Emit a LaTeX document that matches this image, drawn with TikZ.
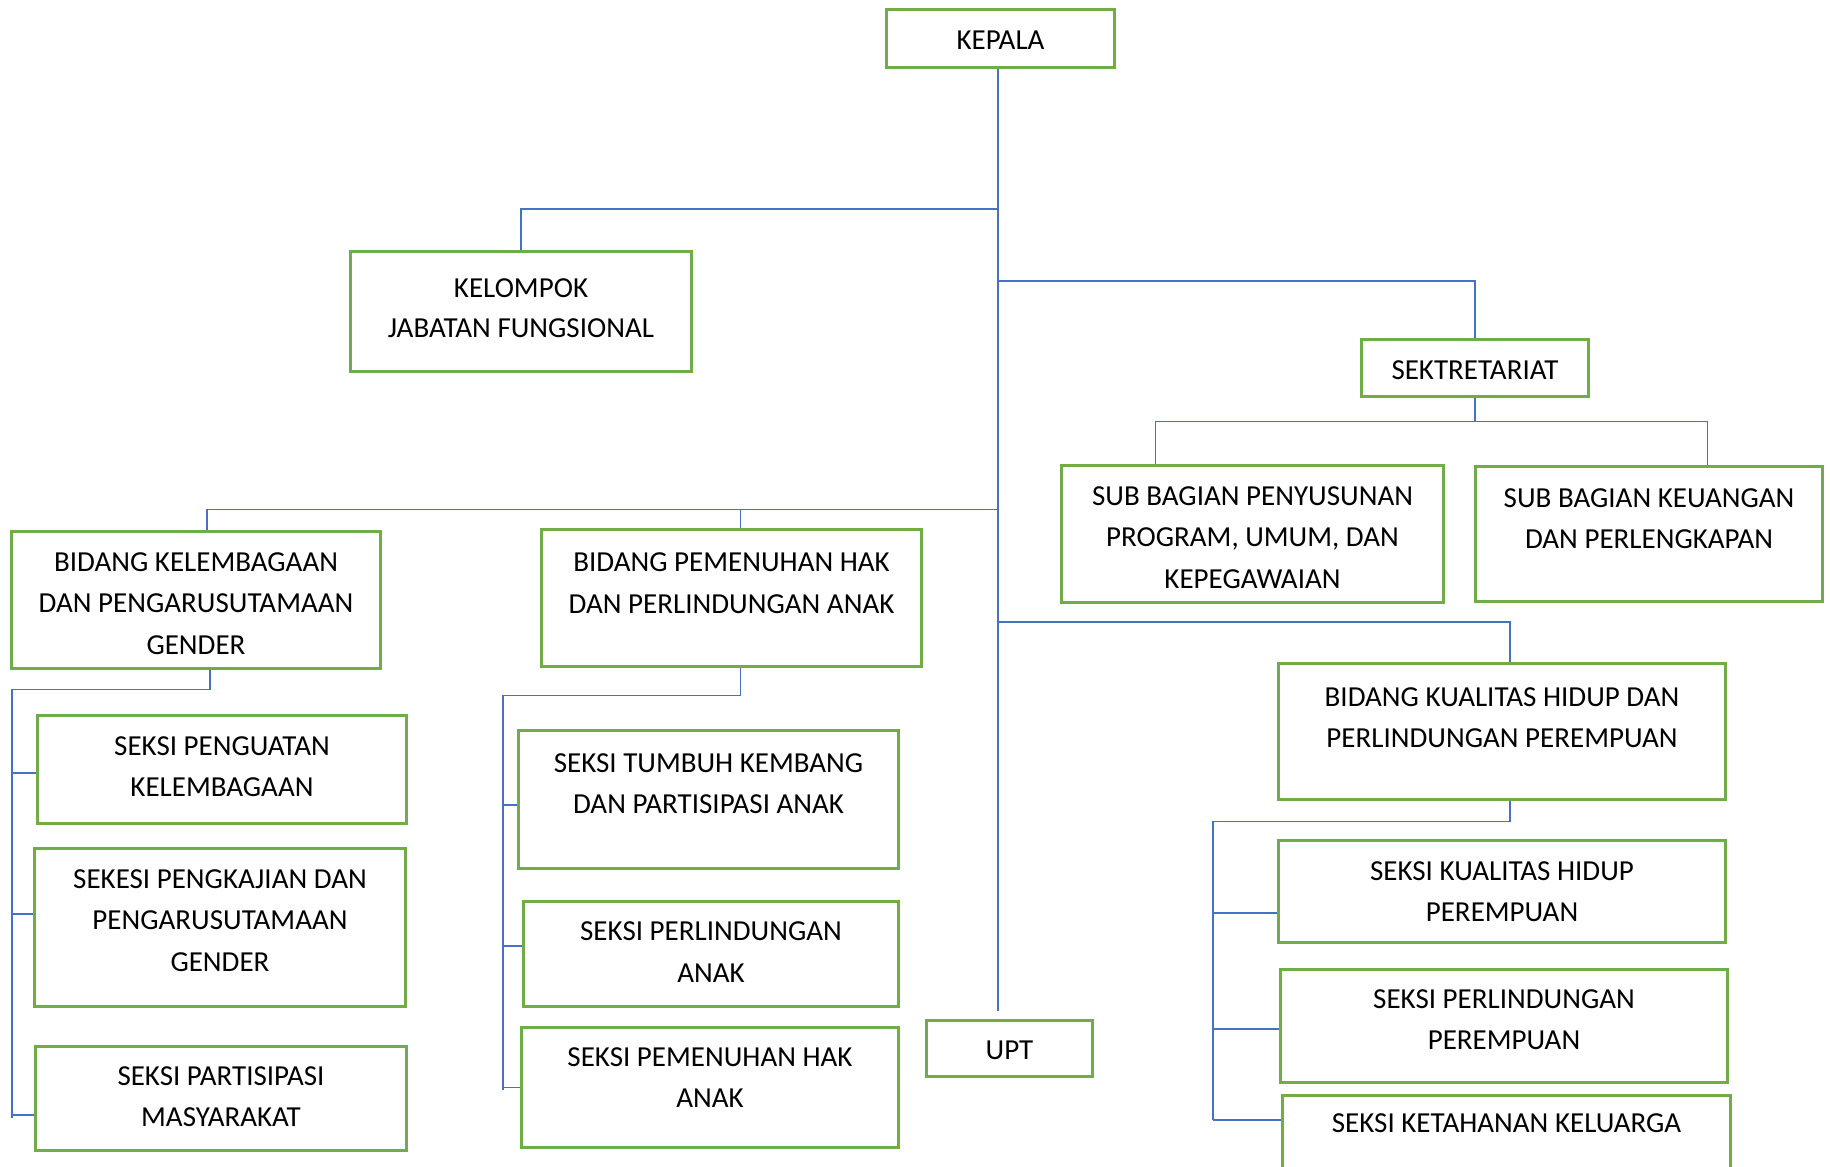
\documentclass[tikz,border=0pt]{standalone}
\usepackage{fontspec}
\setmainfont{Carlito}
\usepackage{xcolor}
\usepackage{tikz}
\definecolor{hijau}{HTML}{70AD47}
\definecolor{biru}{HTML}{4472C4}

\begin{document}
\begin{tikzpicture}[
  x=0.01cm, y=-0.01cm,
  kotak/.style={draw=hijau, line width=0.85pt, inner sep=0pt, align=center,
                text height=0.39cm, font=\fontsize{8.25pt}{11.8pt}\selectfont},
  garis/.style={draw=biru, line width=0.4pt}
]
  \useasboundingbox (0,0) rectangle (1830,1167);

  % Nodes (text height = jarak dari tepi atas ke garis dasar baris terakhir)
  \node[kotak, minimum width=2.27cm, text depth=0.18cm] (kepala) at (1000.5,38.5) {KEPALA};
  \node[kotak, minimum width=3.40cm, text height=0.85cm, text depth=0.34cm] (kelompok) at (521,311.5)
    {KELOMPOK\\[-0.7pt]JABATAN FUNGSIONAL};
  \node[kotak, minimum width=2.26cm, text depth=0.17cm] (sekretariat) at (1475,368) {SEKTRETARIAT};
  \node[kotak, minimum width=3.81cm, text height=1.22cm, text depth=0.14cm] (subprog) at (1252.5,534)
    {SUB BAGIAN PENYUSUNAN\\PROGRAM, UMUM, DAN\\KEPEGAWAIAN};
  \node[kotak, minimum width=3.46cm, text height=0.815cm, text depth=0.525cm] (subkeu) at (1649,534)
    {SUB BAGIAN KEUANGAN\\DAN PERLENGKAPAN};
  \node[kotak, minimum width=3.68cm, text height=1.22cm, text depth=0.14cm] (bidlem) at (196,600)
    {BIDANG KELEMBAGAAN\\DAN PENGARUSUTAMAAN\\GENDER};
  \node[kotak, minimum width=3.79cm, text height=0.83cm, text depth=0.53cm] (bidhak) at (731.5,598)
    {BIDANG PEMENUHAN HAK\\DAN PERLINDUNGAN ANAK};
  \node[kotak, minimum width=4.46cm, text height=0.835cm, text depth=0.515cm] (bidkual) at (1502,731.5)
    {BIDANG KUALITAS HIDUP DAN\\PERLINDUNGAN PEREMPUAN};
  \node[kotak, minimum width=1.65cm, text height=0.38cm, text depth=0.17cm] (upt) at (1009.5,1048.5) {UPT};

  \node[kotak, minimum width=3.68cm, text height=0.805cm, text depth=0.265cm] (penguatan) at (222,769.5)
    {SEKSI PENGUATAN\\KELEMBAGAAN};
  \node[kotak, minimum width=3.70cm, text height=1.22cm, text depth=0.35cm] (pengkajian) at (220,927.5)
    {SEKESI PENGKAJIAN DAN\\PENGARUSUTAMAAN\\GENDER};
  \node[kotak, minimum width=3.70cm, text height=0.795cm, text depth=0.235cm] (partisipasi) at (221,1098.5)
    {SEKSI PARTISIPASI\\MASYARAKAT};

  \node[kotak, minimum width=3.79cm, text height=0.825cm, text depth=0.545cm] (tumbuh) at (708.5,799.5)
    {SEKSI TUMBUH KEMBANG\\DAN PARTISIPASI ANAK};
  \node[kotak, minimum width=3.74cm, text height=0.80cm, text depth=0.24cm] (perlanak) at (711,954)
    {SEKSI PERLINDUNGAN\\ANAK};
  \node[kotak, minimum width=3.76cm, text height=0.795cm, text depth=0.395cm] (pemhak) at (710,1087.5)
    {SEKSI PEMENUHAN HAK\\ANAK};

  \node[kotak, minimum width=4.46cm, text height=0.805cm, text depth=0.205cm] (kualhidup) at (1502,891.5)
    {SEKSI KUALITAS HIDUP\\PEREMPUAN};
  \node[kotak, minimum width=4.46cm, text height=0.795cm, text depth=0.325cm] (perlperempuan) at (1504,1026)
    {SEKSI PERLINDUNGAN\\PEREMPUAN};
  \node[kotak, minimum width=4.47cm, text height=0.37cm, text depth=0.67cm] (ketahanan) at (1506.5,1148)
    {SEKSI KETAHANAN KELUARGA};

  % Titik cabang pada garis utama
  \coordinate (c1) at (998,209);
  \coordinate (c2) at (998,281);
  \coordinate (c3) at (998,509.5);
  \coordinate (c4) at (998,622);
  \coordinate (ujung) at (998,1011);
  \coordinate (kiri) at (12,1118);
  \coordinate (tengah) at (503,1090);
  \coordinate (kanan) at (1213,1120);

  % Garis utama dan cabang
  \draw[garis] (kepala.south -| ujung) -- (ujung);
  \draw[garis] (c1) -| (kelompok.north);
  \draw[garis] (c2) -| (sekretariat.north);
  \draw[garis] (sekretariat.south) -- ++(0,24) coordinate (s1);
  \draw[garis] (s1) -| ([xshift=-0.97cm]subprog.north);
  \draw[garis] (s1) -| ([xshift=0.585cm]subkeu.north);
  \draw[garis] (c3) -| ([xshift=0.11cm]bidlem.north);
  \draw[garis] ([xshift=0.09cm]bidhak.north) -- ([xshift=0.09cm]bidhak.north |- c3);
  \draw[garis] (c4) -| ([xshift=0.08cm]bidkual.north);

  % Seksi di bawah bidang
  \draw[garis] ([xshift=0.14cm]bidlem.south) -- ++(0,20) -| (kiri);
  \draw[garis] ([yshift=-0.035cm]penguatan.west) -- ([yshift=-0.035cm]penguatan.west -| kiri);
  \draw[garis] ([yshift=0.135cm]pengkajian.west) -- ([yshift=0.135cm]pengkajian.west -| kiri);
  \draw[garis] ([yshift=-0.165cm]partisipasi.west) -- ([yshift=-0.165cm]partisipasi.west -| kiri);

  \draw[garis] ([xshift=0.09cm]bidhak.south) -- ++(0,28) -| (tengah);
  \draw[garis] ([yshift=-0.055cm]tumbuh.west) -- ([yshift=-0.055cm]tumbuh.west -| tengah);
  \draw[garis] ([yshift=0.08cm]perlanak.west) -- ([yshift=0.08cm]perlanak.west -| tengah);
  \draw[garis] (pemhak.west) -- (pemhak.west -| tengah);

  \draw[garis] ([xshift=0.08cm]bidkual.south) -- ++(0,21) -| (kanan);
  \draw[garis] ([yshift=-0.215cm]kualhidup.west) -- ([yshift=-0.215cm]kualhidup.west -| kanan);
  \draw[garis] ([yshift=-0.03cm]perlperempuan.west) -- ([yshift=-0.03cm]perlperempuan.west -| kanan);
  \draw[garis] ([yshift=0.28cm]ketahanan.west) -- ([yshift=0.28cm]ketahanan.west -| kanan);
\end{tikzpicture}
\end{document}
